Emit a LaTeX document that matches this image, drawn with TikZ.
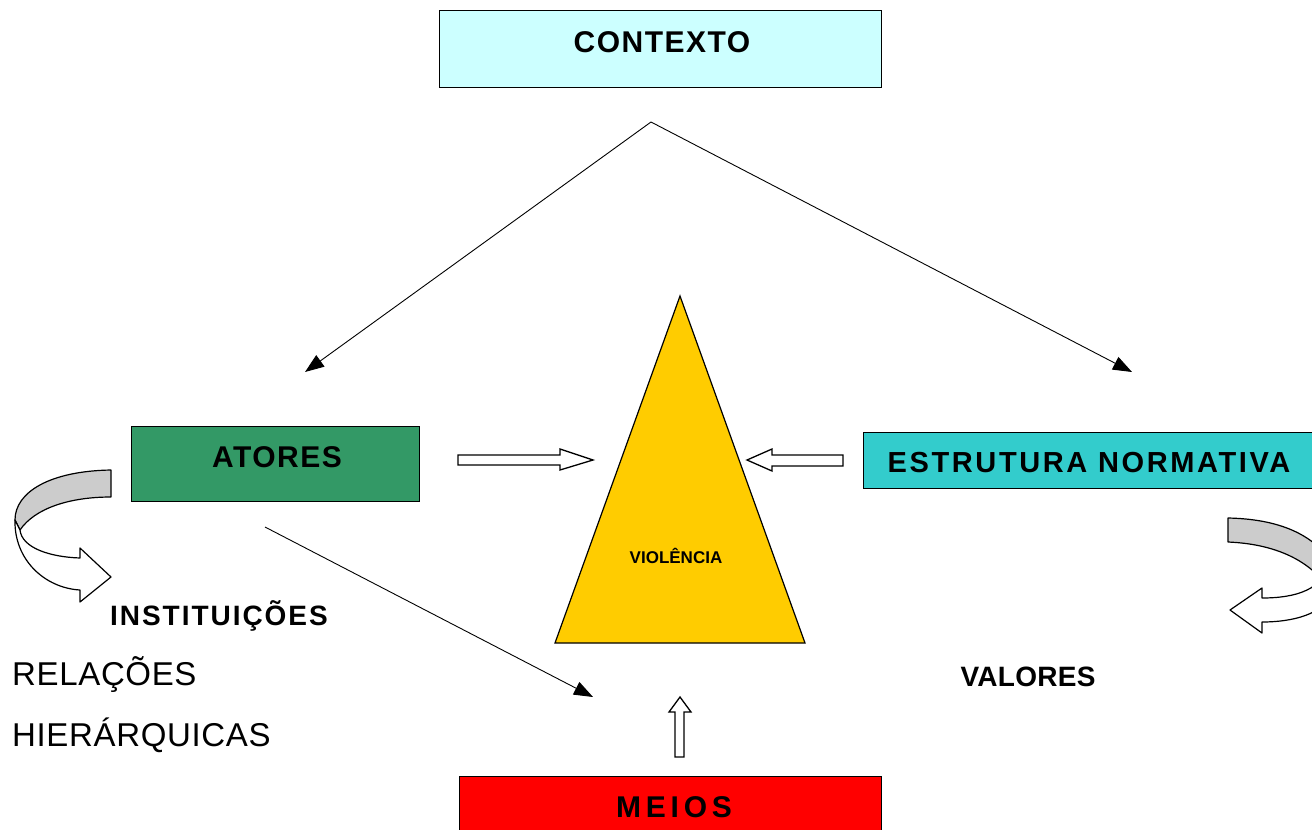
\documentclass[tikz,border=0pt]{standalone}
\usepackage{fontspec}
\setmainfont{Liberation Sans}
\usetikzlibrary{arrows.meta}
\definecolor{ctx}{HTML}{CCFFFF}
\definecolor{atr}{HTML}{339966}
\definecolor{est}{HTML}{33CCCC}
\definecolor{vio}{HTML}{FFCC00}
\definecolor{meio}{HTML}{FF0000}
\definecolor{rib}{HTML}{CCCCCC}
\newcommand{\fsz}[2]{\fontsize{#1}{#1}\selectfont\addfontfeature{LetterSpace=#2}}
\begin{document}
\begin{tikzpicture}[x=1pt,y=-1pt,
  box/.style={draw=black, line width=1.2pt, inner sep=0pt, anchor=north west},
  lbl/.style={font=\bfseries, inner sep=0pt},
  conn/.style={-{Triangle[length=19pt,width=14pt]}, line width=0.9pt},
  blk/.style={draw=black, fill=white, line width=1.3pt, line join=miter},
  ribbon/.style={draw=black, line width=1.2pt, line join=round}]
\useasboundingbox (0,0) rectangle (1312,830);
\clip (0,0) rectangle (1312,830);

% boxes
\node[box, fill=ctx, minimum width=442pt, minimum height=77pt] (ctx) at (439,10) {};
\node[lbl] (ctxt) at (662,42) {\fsz{30}{5}CONTEXTO};
\node[box, fill=atr, minimum width=288pt, minimum height=75pt] (atores) at (131,426) {};
\node[lbl] (atxt) at (277,457) {\fsz{30}{5}ATORES};
\node[box, fill=est, minimum width=449pt, minimum height=56pt] (estr) at (863,432) {};
\node[lbl] (etxt) at (1089,463) {\fsz{29}{9}ESTRUTURA NORMATIVA};
\node[box, fill=meio, minimum width=422pt, minimum height=80pt] (meios) at (459,776) {};
\node[lbl] (mtxt) at (674,807) {\fsz{30}{16}MEIOS};

% triangle
\draw[fill=vio, line width=1.2pt, line join=miter] (680,296) -- (805,643) -- (555,643) -- cycle;
\node[font=\bfseries\fontsize{17}{20}\selectfont] (viol) at (676,556) {VIOLÊNCIA};

% connectors
\coordinate (apex) at (651,122);
\coordinate (a1) at (305,372);
\coordinate (a2) at (1132,372);
\draw[conn] (apex) -- (a1);
\draw[conn] (apex) -- (a2);
\coordinate (m0) at (265,527);
\coordinate (m1) at (593,697);
\draw[conn] (m0) -- (m1);

% block arrows
\draw[blk] (458,455) -- (560,455) -- (560,449) -- (593,460) -- (560,470) -- (560,465) -- (458,465) -- cycle;
\draw[blk] (843,455) -- (772,455) -- (772,449) -- (747,460) -- (772,471) -- (772,466) -- (843,466) -- cycle;
\draw[blk] (675,757) -- (675,712) -- (669,712) -- (680,697) -- (691,712) -- (684,712) -- (684,757) -- cycle;

% left curved arrow
\draw[ribbon, fill=rib] (111,470) .. controls (50,471) and (15,492) .. (15,520)
   -- (20,530) .. controls (35,508) and (70,497) .. (111,497) -- cycle;
\draw[ribbon, fill=white] (15,520) .. controls (14,560) and (45,588) .. (80,590)
   -- (80,602) -- (111,577) -- (80,548) -- (80,558)
   .. controls (50,557) and (22,548) .. (20,530) -- cycle;

% right curved arrow
\draw[ribbon, fill=rib] (1228,518) .. controls (1275,519) and (1310,532) .. (1330,560)
   -- (1330,590) .. controls (1310,560) and (1275,544) .. (1228,542) -- cycle;
\draw[ribbon, fill=white] (1330,560) .. controls (1325,590) and (1295,598) .. (1262,598)
   -- (1262,588) -- (1230,610) -- (1262,633) -- (1262,622)
   .. controls (1300,622) and (1330,610) .. (1330,590) -- cycle;

% texts
\node[lbl] (inst) at (219,616) {\fsz{28}{7}INSTITUIÇÕES};
\node[inner sep=0pt, anchor=west] (rel) at (12,675) {\fsz{33}{2}RELAÇÕES};
\node[inner sep=0pt, anchor=west] (hier) at (12,735) {\fsz{33}{2}HIERÁRQUICAS};
\node[lbl] (val) at (1028,677) {\fsz{28}{1}VALORES};
\end{tikzpicture}
\end{document}
